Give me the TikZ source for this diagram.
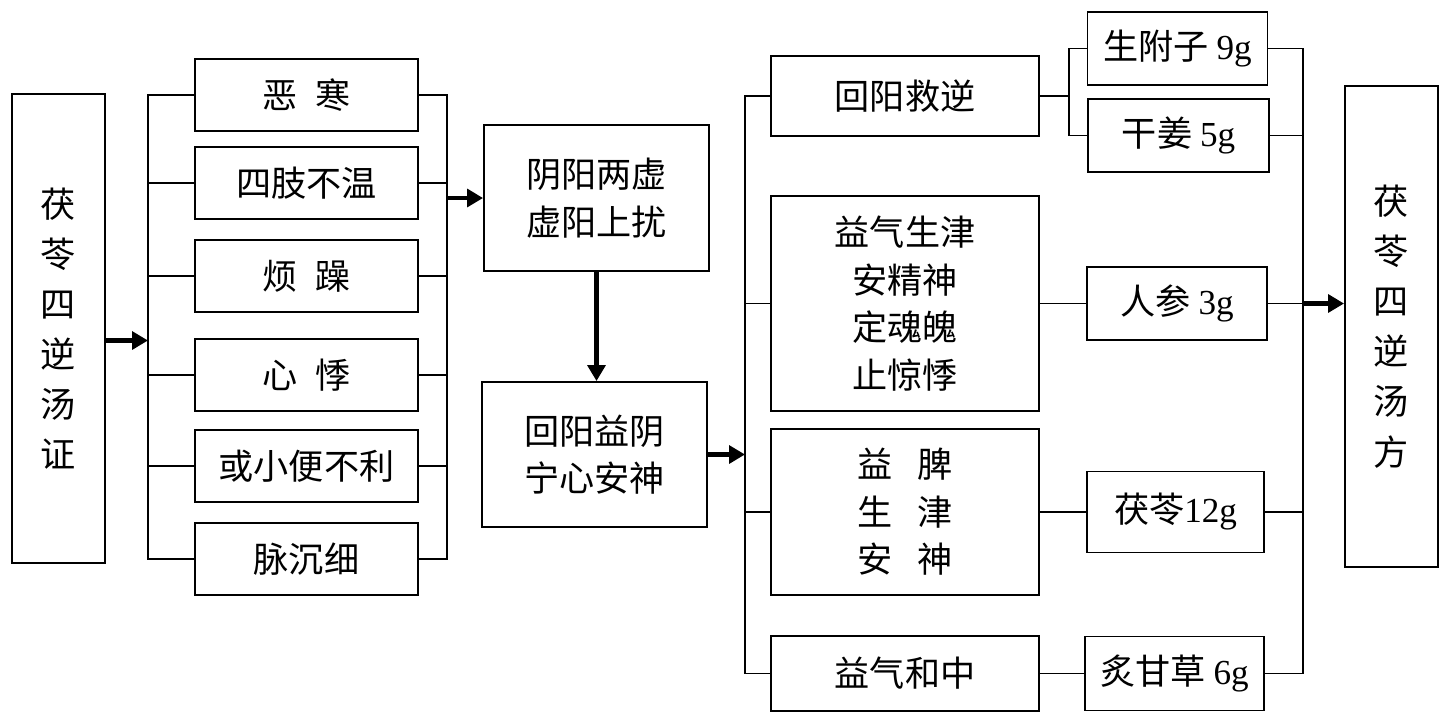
\documentclass[tikz,border=0pt]{standalone}
\usepackage{fontspec}
\setmainfont{Liberation Serif}
\newfontfamily\cjk{Noto Sans CJK SC}
\usetikzlibrary{arrows.meta}

\begin{document}
\begin{tikzpicture}[x=0.02cm,y=-0.02cm,box/.style={shape=rectangle,draw=black,line width=1.1pt,inner sep=0,align=center,font=\cjk\fontsize{20}{27}\selectfont},symbox/.style={box,minimum width=4.46cm,minimum height=1.44cm},tallbox/.style={box,minimum width=1.86cm,font=\cjk\fontsize{20}{28.5}\selectfont},effbox/.style={box,minimum width=5.36cm},herbbox/.style={box,minimum width=3.6cm,minimum height=1.46cm},link/.style={line width=1pt},arr/.style={line width=2.3pt,-{Triangle[length=9pt,width=10pt]}}]
\useasboundingbox (0,0) rectangle (1447,718);
\def\gap{\hspace{0.5em}};

\node[tallbox,minimum height=9.38cm] (L) at (58.5,328.5) {茯\\苓\\四\\逆\\汤\\证};
\foreach \n/\y/\t in {s1/95/恶\gap 寒,s2/183/四肢不温,s3/276/烦\gap 躁,s4/375/心\gap 悸,s5/466/或小便不利,s6/559/脉沉细}
  \node[symbox] (\n) at (306.5,\y) {\t};

\node[box,minimum width=4.5cm,minimum height=2.92cm] (A1) at (596.5,198) {阴阳两虚\\虚阳上扰};
\node[box,minimum width=4.5cm,minimum height=2.9cm] (A2) at (594.5,454.5) {回阳益阴\\宁心安神};

\node[effbox,minimum height=1.6cm] (T1) at (905,96) {回阳救逆};
\node[effbox,minimum height=4.3cm] (T2) at (905,303.5) {益气生津\\安精神\\定魂魄\\止惊悸};
\node[effbox,minimum height=3.32cm] (T3) at (905,512) {益\hspace{0.7em}脾\\生\hspace{0.7em}津\\安\hspace{0.7em}神};
\node[effbox,minimum height=1.5cm] (T4) at (905,673.5) {益气和中};

\node[herbbox] (H1) at (1177.5,48.5) {生附子 {\rmfamily 9g}};
\node[herbbox,minimum width=3.62cm] (H2) at (1178.5,135.5) {干姜 {\rmfamily 5g}};
\node[herbbox] (H3) at (1177,303.5) {人参 {\rmfamily 3g}};
\node[herbbox,minimum width=3.54cm,minimum height=1.62cm] (H4) at (1175.5,512) {茯苓{\rmfamily 12g}};
\node[herbbox,minimum width=3.58cm,minimum height=1.48cm] (H5) at (1174.5,673.5) {炙甘草 {\rmfamily 6g}};

\node[tallbox,minimum height=9.62cm] (R) at (1391.5,326.5) {茯\\苓\\四\\逆\\汤\\方};

\coordinate (bL) at (148,0);
\coordinate (bR) at (447,0);
\coordinate (bT) at (745,0);
\coordinate (bF) at (1069,0);
\coordinate (bH) at (1303,0);

\draw[link] (s1.west) -- (s1.west -| bL) -- (s6.west -| bL) -- (s6.west);
\draw[link] (s1.east) -- (s1.east -| bR) -- (s6.east -| bR) -- (s6.east);
\foreach \n in {s2,s3,s4,s5}
  \draw[link] (\n.west -| bL) -- (\n.west) (\n.east) -- (\n.east -| bR);

\draw[link] (T1.west) -- (T1.west -| bT) -- (T4.west -| bT) -- (T4.west);
\foreach \n in {T2,T3}
  \draw[link] (\n.west -| bT) -- (\n.west);

\draw[link] (T1.east) -- (T1.east -| bF);
\draw[link] (H1.west) -- (H1.west -| bF) -- (H2.west -| bF) -- (H2.west);
\draw[link] (T2.east) -- (H3.west);
\draw[link] (T3.east) -- (H4.west);
\draw[link] (T4.east) -- (H5.west);

\draw[link] (H1.east) -- (H1.east -| bH) -- (H5.east -| bH) -- (H5.east);
\foreach \n in {H2,H3,H4}
  \draw[link] (\n.east) -- (\n.east -| bH);

\draw[arr] ([yshift=-0.24cm]L.east) -- ([yshift=-0.24cm]L.east -| bL);
\draw[arr] (A1.west -| bR) -- (A1.west);
\draw[arr] (A1.south) -- (A1.south |- A2.north);
\draw[arr] (A2.east) -- (A2.east -| bT);
\draw[arr] (H3.east -| bH) -- (H3.east -| R.west);
\end{tikzpicture}
\end{document}
